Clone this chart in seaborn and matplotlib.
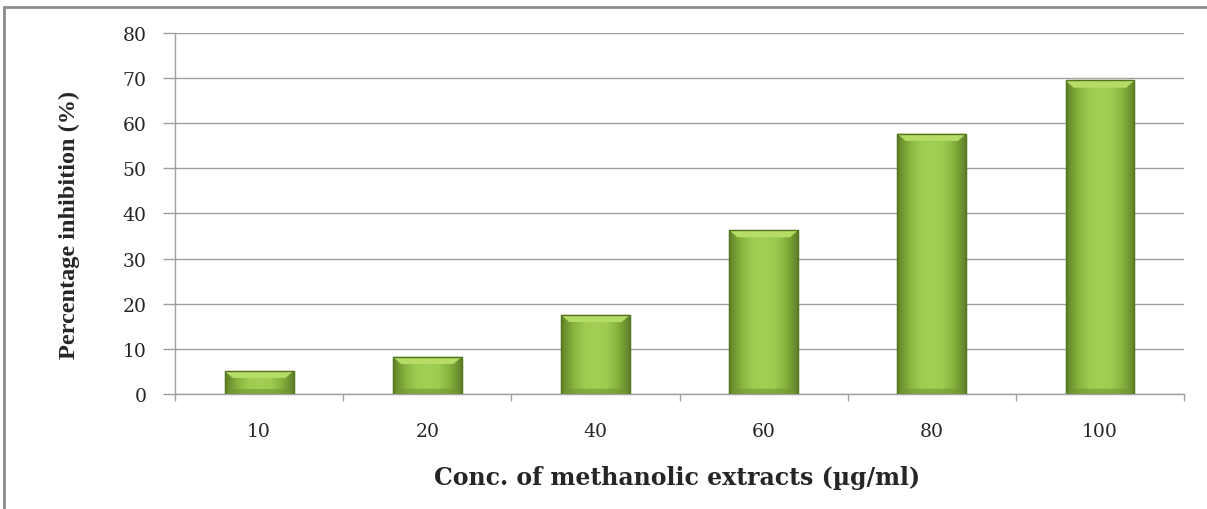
import numpy as np
import pandas as pd
import matplotlib
matplotlib.use("Agg")
import matplotlib.pyplot as plt
import seaborn as sns
from matplotlib.patches import Rectangle, Polygon
from matplotlib.colors import LinearSegmentedColormap

concentrations = ["10", "20", "40", "60", "80", "100"]
inhibition = [5.0, 8.2, 17.5, 36.3, 57.7, 69.5]
y_ticks = [0, 10, 20, 30, 40, 50, 60, 70, 80]

df = pd.DataFrame({"conc": concentrations, "inh": inhibition})

sns.set_theme(style="white")
plt.rcParams["font.family"] = ["Liberation Serif", "DejaVu Serif"]

fig = plt.figure(figsize=(12.07, 5.10), dpi=100)
ax = fig.add_axes([0.145, 0.226, 0.836, 0.707])

sns.barplot(data=df, x="conc", y="inh", ax=ax, color="#92bf45",
            width=0.41, edgecolor="#5d7d28", linewidth=0.8, saturation=1)

# gradient shading on each bar
cmap = LinearSegmentedColormap.from_list(
    "g", ["#5f8228", "#86b23e", "#9ccb50", "#a2cf55", "#9ccb50", "#86b23e", "#5f8228"])
grad = np.linspace(0, 1, 64).reshape(1, -1)
for p in ax.patches[:]:
    x0, y0 = p.get_x(), p.get_y()
    w, h = p.get_width(), p.get_height()
    z = p.get_zorder()
    im = ax.imshow(grad, cmap=cmap, aspect="auto",
                   extent=[x0, x0 + w, y0, y0 + h], zorder=z + 0.1)
    im.set_clip_path(p)
    bh = min(1.6, h * 0.3)
    bw = w * 0.12
    ax.add_patch(Polygon([(x0, y0 + h), (x0 + w, y0 + h),
                          (x0 + w - bw, y0 + h - bh), (x0 + bw, y0 + h - bh)],
                         closed=True, facecolor="#b4dc66", edgecolor="none",
                         zorder=z + 0.2))
    ax.add_patch(Polygon([(x0, y0), (x0 + w, y0),
                          (x0 + w - bw, y0 + bh * 0.7), (x0 + bw, y0 + bh * 0.7)],
                         closed=True, facecolor="#6f9630", edgecolor="none",
                         alpha=0.6, zorder=z + 0.2))
    ax.add_patch(Rectangle((x0, y0), w, h, facecolor="none",
                           edgecolor="#55731f", linewidth=1.0,
                           zorder=z + 0.3))

ax.set_xlim(-0.5, len(concentrations) - 0.5)
ax.set_ylim(0, 80)
ax.set_yticks(y_ticks)
ax.yaxis.grid(True, color="#a0a0a0", linewidth=1.0)
ax.set_axisbelow(True)

for s in ["top", "right"]:
    ax.spines[s].set_visible(False)
for s in ["left", "bottom"]:
    ax.spines[s].set_color("#a0a0a0")
    ax.spines[s].set_linewidth(1.0)

ax.tick_params(axis="y", which="major", length=8.6, width=1.0,
               color="#a0a0a0", pad=12, left=True)
ax.set_xticks(np.arange(-0.5, len(concentrations), 1.0), minor=True)
ax.tick_params(axis="x", which="minor", length=5, width=1.0,
               color="#a0a0a0", bottom=True)
ax.tick_params(axis="x", which="major", length=0, pad=20)
for lab in ax.get_xticklabels() + ax.get_yticklabels():
    lab.set_fontfamily("DejaVu Serif")
    lab.set_fontsize(13.5)

ax.set_xlabel("Conc. of methanolic extracts (µg/ml)", fontsize=17,
              fontweight="bold", family="DejaVu Serif")
ax.xaxis.set_label_coords(0.498, -0.198)
ax.set_ylabel("Percentage inhibition (%)", fontsize=17.5, fontweight="bold")
ax.yaxis.set_label_coords(-0.094, 0.47)

# figure frame (left and top edges visible)
fig.add_artist(Rectangle((0.0035, -0.1), 1.2, 1.1 - 0.0176 + 0.001,
                         transform=fig.transFigure, facecolor="none",
                         edgecolor="#8c8c8c", linewidth=2.0))

fig.savefig("out.png", dpi=100)
